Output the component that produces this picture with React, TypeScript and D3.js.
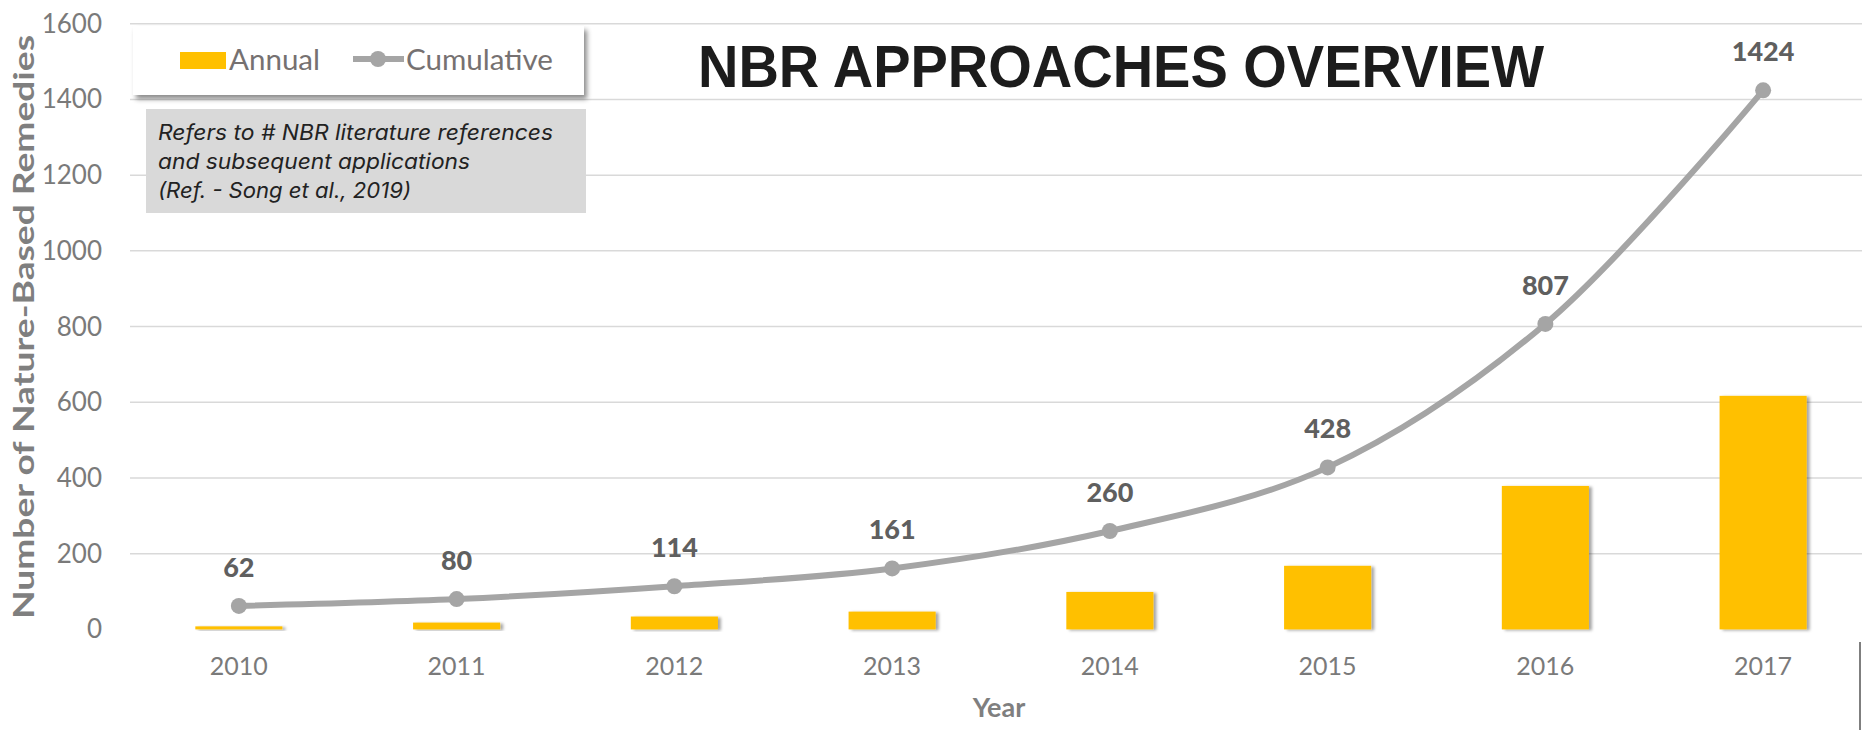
import React from "react";
import * as d3 from "d3";

const years = ["2010", "2011", "2012", "2013", "2014", "2015", "2016", "2017"];
const annual = [8, 18, 34, 47, 99, 168, 379, 617];
const cumulative = [62, 80, 114, 161, 260, 428, 807, 1424];
const yTicks = [0, 200, 400, 600, 800, 1000, 1200, 1400, 1600];
const noteLines = [
  "Refers to # NBR literature references",
  "and subsequent applications",
  "(Ref. - Song et al., 2019)",
];
const noteLengths = [395, 312, 253];

const W = 1862;
const H = 730;
const plotLeft = 130;
const plotRight = 1872;
const yTop = 23.75;
const yBottom = 629.4;

export default function App() {
  const x = d3.scaleBand<string>().domain(years).range([plotLeft, plotRight]).paddingInner(0).paddingOuter(0);
  const y = d3.scaleLinear().domain([0, 1600]).range([yBottom, yTop]);
  const bw = x.bandwidth() * 0.4;
  const cx = (yr: string) => (x(yr) as number) + x.bandwidth() / 2;

  const line = d3
    .line<number>()
    .x((_, i) => cx(years[i]))
    .y((d) => y(d))
    .curve(d3.curveCatmullRom.alpha(0.5));

  const tickFont = "Lato, 'Open Sans', sans-serif";

  return (
    <svg width={W} height={H} style={{ position: "absolute", left: 0, top: 0, background: "#fff" }}>
      <defs>
        <filter id="barShadow" x="-20%" y="-20%" width="140%" height="140%">
          <feDropShadow dx="3" dy="1" stdDeviation="1.5" floodColor="#000" floodOpacity="0.35" />
        </filter>
        <filter id="boxShadow" x="-10%" y="-20%" width="120%" height="150%">
          <feDropShadow dx="3" dy="4" stdDeviation="2.5" floodColor="#000" floodOpacity="0.45" />
        </filter>
        <filter id="axisShadow" x="-5%" y="-200%" width="110%" height="500%">
          <feDropShadow dx="0" dy="3" stdDeviation="1.5" floodColor="#000" floodOpacity="0.45" />
        </filter>
      </defs>

      {/* gridlines */}
      {yTicks.filter((t) => t > 0).map((t) => (
        <line key={t} x1={plotLeft} x2={W} y1={y(t)} y2={y(t)} stroke="#d9d9d9" strokeWidth={1.5} />
      ))}

      {/* y tick labels */}
      {yTicks.map((t) => (
        <text key={"yt" + t} x={102} y={y(t) + 9} textAnchor="end" fontFamily={tickFont} fontSize={26} fill="#7a7a7a">
          {t}
        </text>
      ))}

      {/* bars */}
      {annual.map((v, i) => (
        <rect
          key={"b" + i}
          x={cx(years[i]) - bw / 2}
          y={y(v)}
          width={bw}
          height={y(0) - y(v)}
          fill="#FFC000"
          filter="url(#barShadow)"
        />
      ))}

      {/* x axis line */}
      <line x1={plotLeft} x2={W} y1={y(0)} y2={y(0)} stroke="#d0d0d0" strokeWidth={2} filter="url(#axisShadow)" />

      {/* x tick labels */}
      {years.map((yr) => (
        <text key={"xt" + yr} x={cx(yr)} y={675} textAnchor="middle" fontFamily={tickFont} fontSize={25} fill="#7a7a7a">
          {yr}
        </text>
      ))}

      {/* cumulative line */}
      <path d={line(cumulative) || ""} fill="none" stroke="#a5a5a5" strokeWidth={6} />
      {cumulative.map((v, i) => (
        <circle key={"c" + i} cx={cx(years[i])} cy={y(v)} r={8} fill="#a5a5a5" />
      ))}
      {cumulative.map((v, i) => (
        <text
          key={"l" + i}
          x={cx(years[i])}
          y={y(v) - 29}
          textAnchor="middle"
          fontFamily={tickFont}
          fontWeight={900}
          fontSize={27}
          fill="#5f5f5f"
        >
          {v}
        </text>
      ))}

      {/* axis titles */}
      <text
        x={999}
        y={717}
        textAnchor="middle"
        fontFamily={tickFont}
        fontWeight="bold"
        fontSize={27}
        fill="#7f7f7f"
      >
        Year
      </text>
      <text
        transform="translate(34,327) rotate(-90)"
        textAnchor="middle"
        fontFamily={tickFont}
        fontWeight="bold"
        fontSize={28}
        fill="#7f7f7f"
        textLength={584}
        lengthAdjust="spacingAndGlyphs"
      >
        Number of Nature-Based Remedies
      </text>

      {/* legend */}
      <rect x={133} y={26} width={451} height={69} fill="#fff" filter="url(#boxShadow)" />
      <rect x={180} y={52} width={46} height={17} fill="#FFC000" />
      <text x={229} y={70} fontFamily={tickFont} fontSize={29} fill="#767171" textLength={91} lengthAdjust="spacingAndGlyphs">
        Annual
      </text>
      <line x1={353} x2={404} y1={59} y2={59} stroke="#a5a5a5" strokeWidth={6} />
      <circle cx={378} cy={59} r={8} fill="#a5a5a5" />
      <text x={406} y={70} fontFamily={tickFont} fontSize={29} fill="#767171" textLength={147} lengthAdjust="spacingAndGlyphs">
        Cumulative
      </text>

      {/* note box */}
      <rect x={146} y={109} width={440} height={104} fill="#d9d9d9" />
      {noteLines.map((t, i) => (
        <text
          key={"n" + i}
          x={158}
          y={140 + i * 29}
          fontFamily="Inter, 'Open Sans', sans-serif"
          fontStyle="italic"
          fontSize={21}
          fill="#222"
          textLength={noteLengths[i]}
          lengthAdjust="spacingAndGlyphs"
        >
          {t}
        </text>
      ))}

      {/* title */}
      <text
        x={698}
        y={87}
        fontFamily="'Liberation Sans Narrow', 'Liberation Sans', Arial, sans-serif"
        fontWeight="bold"
        fontSize={59}
        fill="#1c1c1c"
        textLength={846}
        lengthAdjust="spacingAndGlyphs"
      >
        NBR APPROACHES OVERVIEW
      </text>

      {/* right frame edge */}
      <line x1={1860} x2={1860} y1={642} y2={H} stroke="#555" strokeWidth={1.5} />
    </svg>
  );
}
